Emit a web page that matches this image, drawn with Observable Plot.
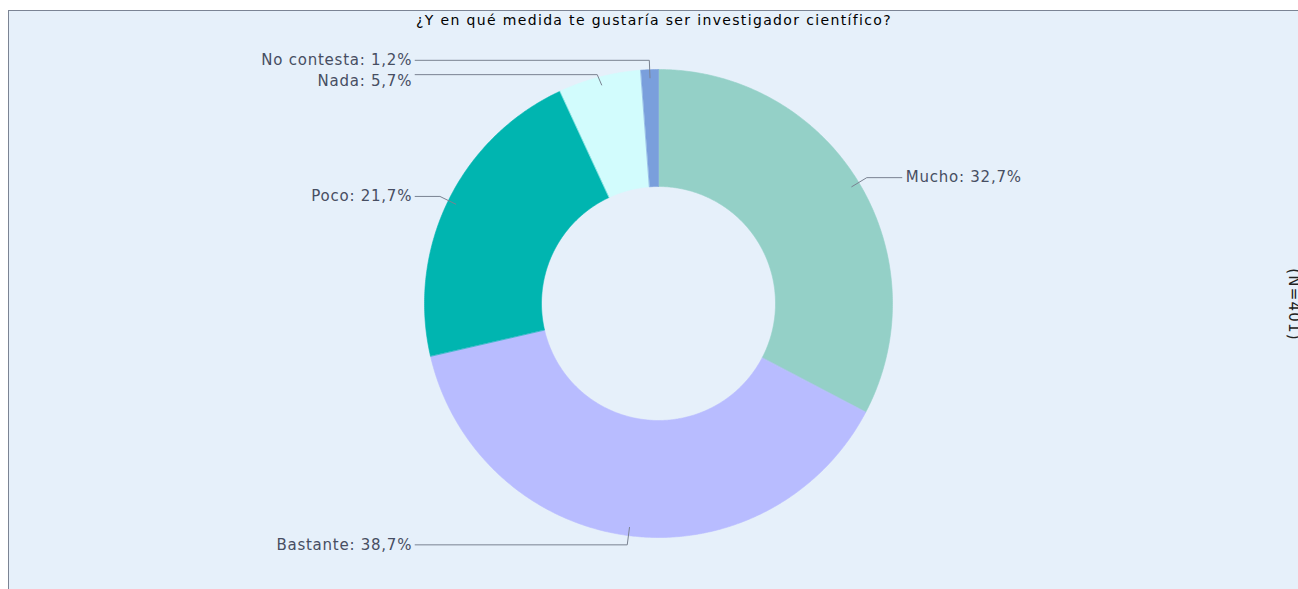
<!DOCTYPE html>
<html>
<head>
<meta charset="utf-8">
<script src="https://cdn.jsdelivr.net/npm/d3@7"></script>
<script src="https://cdn.jsdelivr.net/npm/@observablehq/plot@0.6"></script>
<style>
  html, body { margin: 0; padding: 0; background: #ffffff; width: 1298px; height: 589px; overflow: hidden; }
  #panel {
    position: absolute; left: 8px; top: 10px; width: 1290px; height: 579px;
    background: #e6f0fa; border-top: 1px solid #7b8494; border-left: 1px solid #7b8494;
    overflow: hidden;
  }
  #panel svg { display: block; }
</style>
</head>
<body>
<div id="panel"></div>
<script>
const title = "¿Y en qué medida te gustaría ser investigador científico?";
const note = "(N=401)";
const categories = ["Mucho", "Bastante", "Poco", "Nada", "No contesta"];
const values = [32.7, 38.7, 21.7, 5.7, 1.2];
const colors = ["#94d0c7", "#b8bcff", "#00b5b0", "#d2fcfd", "#7a9fdc"];

// layout constants (pixels inside the SVG)
const W = 1289, H = 578;
const cx = 649, cy = 292, R = 234;
const inner = 0.5;

const total = d3.sum(values);
let acc = 0;
const slices = categories.map((c, i) => {
  const a0 = acc / total * 2 * Math.PI;
  acc += values[i];
  const a1 = acc / total * 2 * Math.PI;
  return {cat: c, value: values[i], a0, a1, mid: (a0 + a1) / 2};
});

// polygon points for each donut slice (angle measured clockwise from top)
const polyPts = [];
for (const s of slices) {
  const n = Math.max(2, Math.ceil((s.a1 - s.a0) / (Math.PI / 360)));
  for (let k = 0; k <= n; k++) {
    const a = s.a0 + (s.a1 - s.a0) * k / n;
    polyPts.push({cat: s.cat, x: Math.sin(a), y: Math.cos(a)});
  }
  for (let k = n; k >= 0; k--) {
    const a = s.a0 + (s.a1 - s.a0) * k / n;
    polyPts.push({cat: s.cat, x: inner * Math.sin(a), y: inner * Math.cos(a)});
  }
}

// labels with simple collision avoidance on each side
const rStart = 0.965, rElbow = 1.04, xEnd = 1.04, gap = 21 / R;
const labels = slices.map(s => ({
  ...s,
  side: Math.sin(s.mid) >= 0 ? "right" : "left",
  natY: rElbow * Math.cos(s.mid),
  text: `${s.cat}: ${s.value.toFixed(1).replace(".", ",")}%`
}));
for (const side of ["left", "right"]) {
  const group = labels.filter(l => l.side === side).sort((a, b) => b.natY - a.natY);
  let prev = Infinity;
  for (const l of group) {
    l.ty = Math.min(l.natY, prev - gap);
    prev = l.ty;
  }
}
const leaderPts = [];
for (const l of labels) {
  const ey = (l.natY + l.ty) / 2;
  const sgn = l.side === "right" ? 1 : -1;
  leaderPts.push({cat: l.cat, x: rStart * Math.sin(l.mid), y: rStart * Math.cos(l.mid)});
  leaderPts.push({cat: l.cat, x: rElbow * Math.sin(l.mid), y: ey});
  leaderPts.push({cat: l.cat, x: sgn * xEnd, y: ey});
  l.tx = sgn * xEnd;
  l.ey = ey;
}

const chart = Plot.plot({
  width: W,
  height: H,
  margin: 0,
  style: {background: "transparent", fontFamily: "'DejaVu Sans', Verdana, sans-serif"},
  x: {domain: [-1, 1], range: [cx - R, cx + R], axis: null},
  y: {domain: [-1, 1], range: [cy + R, cy - R], axis: null},
  color: {domain: categories, range: colors},
  marks: [
    Plot.line(polyPts, {x: "x", y: "y", z: "cat", fill: "cat", stroke: "cat", strokeWidth: 0.6, curve: "linear-closed"}),
    Plot.line(leaderPts, {x: "x", y: "y", z: "cat", stroke: "#7a8291", strokeWidth: 1}),
    Plot.text(labels.filter(l => l.side === "left"), {
      x: "tx", y: "ty", text: "text", textAnchor: "end", dx: -3,
      fill: "#474e62", fontSize: 15, lineAnchor: "middle"
    }),
    Plot.text(labels.filter(l => l.side === "right"), {
      x: "tx", y: "ty", text: "text", textAnchor: "start", dx: 4,
      fill: "#474e62", fontSize: 15, lineAnchor: "middle"
    }),
    Plot.text([title], {
      frameAnchor: "top", text: d => d, dy: 9, lineAnchor: "middle",
      fill: "#000000", fontSize: 14
    }),
    Plot.text([note], {
      frameAnchor: "right", text: d => d, dx: -5, dy: 4, rotate: 90, lineAnchor: "middle",
      textAnchor: "middle", fill: "#222222", fontSize: 15
    })
  ]
});
// letter spacing to imitate the wider original typeface
const textGroups = d3.select(chart).selectAll("g[aria-label='text']").nodes();
const spacing = [0.75, 0.75, 1.35, 1.2];
textGroups.forEach((g, i) => d3.select(g).selectAll("text").style("letter-spacing", spacing[i] + "px"));
document.getElementById("panel").append(chart);
</script>
</body>
</html>
